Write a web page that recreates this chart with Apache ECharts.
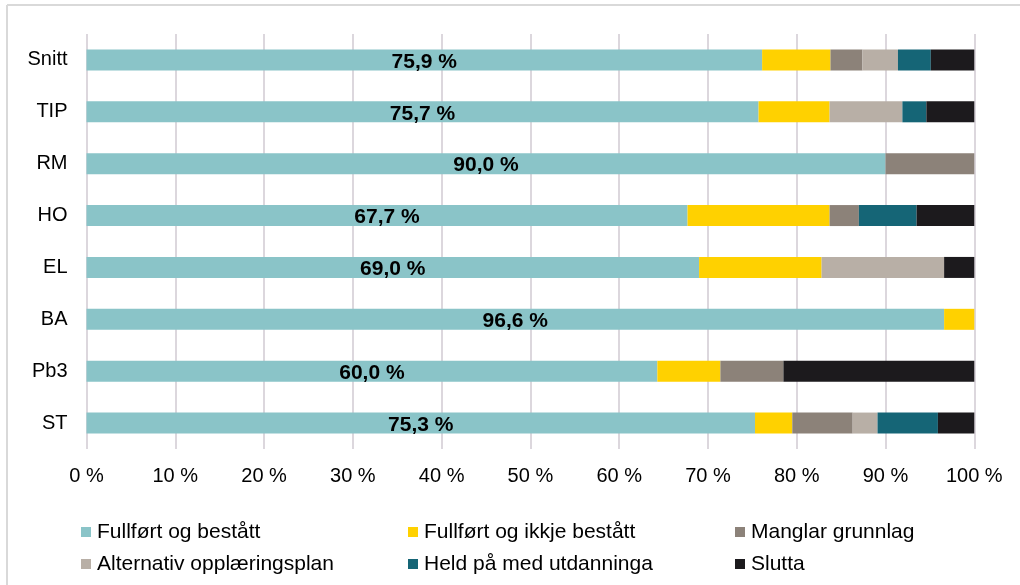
<!DOCTYPE html>
<html>
<head>
<meta charset="utf-8">
<script src="https://cdn.jsdelivr.net/npm/echarts@6/dist/echarts.min.js"></script>
<style>
html,body{margin:0;padding:0;background:#fff;}
#c{width:1020px;height:585px;}
</style>
</head>
<body>
<div id="c"></div>
<script>
var categories = ['Snitt', 'TIP', 'RM', 'HO', 'EL', 'BA', 'Pb3', 'ST'];
var seriesNames = ['Fullført og bestått', 'Fullført og ikkje bestått', 'Manglar grunnlag',
                   'Alternativ opplæringsplan', 'Held på med utdanninga', 'Slutta'];
var fullfortBestatt   = [76.1, 75.7, 90.0, 67.7, 69.0, 96.6, 64.3, 75.3];
var fullfortIkkje     = [7.7, 8.0, 0, 16.0, 13.8, 3.4, 7.1, 4.2];
var manglarGrunnlag   = [3.6, 0, 10.0, 3.3, 0, 0, 7.1, 6.8];
var alternativPlan    = [4.0, 8.2, 0, 0, 13.8, 0, 0, 2.8];
var heldPaa           = [3.7, 2.7, 0, 6.5, 0, 0, 0, 6.8];
var slutta            = [4.9, 5.4, 0, 6.5, 3.4, 0, 21.5, 4.1];
var labelValues       = [75.9, 75.7, 90.0, 67.7, 69.0, 96.6, 60.0, 75.3];
var tickValues        = [0, 10, 20, 30, 40, 50, 60, 70, 80, 90, 100];

var colors = ['#8AC4C8', '#FFD100', '#8C8279', '#B8AFA6', '#156576', '#1C1A1D'];
var seriesData = [fullfortBestatt, fullfortIkkje, manglarGrunnlag, alternativPlan, heldPaa, slutta];
var FONT = '"Liberation Sans", Arial, sans-serif';

var series = seriesData.map(function (d, i) {
  var s = {
    name: seriesNames[i],
    type: 'bar',
    stack: 'total',
    barWidth: 21,
    data: d.map(function (v) { return v === 0 ? null : v; }),
    itemStyle: { color: colors[i] },
    emphasis: { disabled: true }
  };
  if (i === 0) {
    s.label = {
      show: true,
      position: 'inside',
      offset: [0, 2],
      color: '#000',
      fontFamily: FONT,
      fontWeight: 'bold',
      fontSize: 21,
      formatter: function (p) {
        return labelValues[p.dataIndex].toFixed(1).replace('.', ',') + ' %';
      }
    };
  }
  return s;
});

// legend positions (3 columns x 2 rows)
var legendPos = [
  { left: 81, top: 521 }, { left: 408, top: 521 }, { left: 735, top: 521 },
  { left: 81, top: 553 }, { left: 408, top: 553 }, { left: 735, top: 553 }
];
var order = [0, 1, 2, 3, 4, 5];
var legends = order.map(function (i) {
  return {
    data: [seriesNames[i]],
    left: legendPos[i].left,
    top: legendPos[i].top,
    padding: 0,
    icon: 'rect',
    itemWidth: 10,
    itemHeight: 10,
    selectedMode: false,
    textStyle: { fontFamily: FONT, fontSize: 21, color: '#000', lineHeight: 22, padding: [0, 0, 0, 1] }
  };
});

var chart = echarts.init(document.getElementById('c'), null, { renderer: 'canvas' });
chart.setOption({
  animation: false,
  backgroundColor: '#fff',
  color: colors,
  grid: { left: 86.5, right: 45.7, top: 34, bottom: 136, containLabel: false },
  legend: legends,
  xAxis: {
    type: 'value',
    min: tickValues[0],
    max: tickValues[tickValues.length - 1],
    interval: 10,
    axisLine: { show: false },
    axisTick: { show: false },
    splitLine: { show: true, lineStyle: { color: '#DCD7DD', width: 2 } },
    axisLabel: {
      margin: 17,
      color: '#000',
      fontFamily: FONT,
      fontSize: 20,
      formatter: function (v) { return v + ' %'; }
    }
  },
  yAxis: {
    type: 'category',
    data: categories,
    inverse: true,
    axisLine: { show: false },
    axisTick: { show: false },
    splitLine: { show: false },
    axisLabel: { margin: 19, color: '#000', fontFamily: FONT, fontSize: 20 }
  },
  graphic: [
    { type: 'line', shape: { x1: 7, y1: 5, x2: 1020, y2: 5 }, style: { stroke: '#D9D9D9', lineWidth: 2 }, silent: true },
    { type: 'line', shape: { x1: 7, y1: 5, x2: 7, y2: 585 }, style: { stroke: '#D9D9D9', lineWidth: 2 }, silent: true }
  ],
  series: series
});
</script>
</body>
</html>
